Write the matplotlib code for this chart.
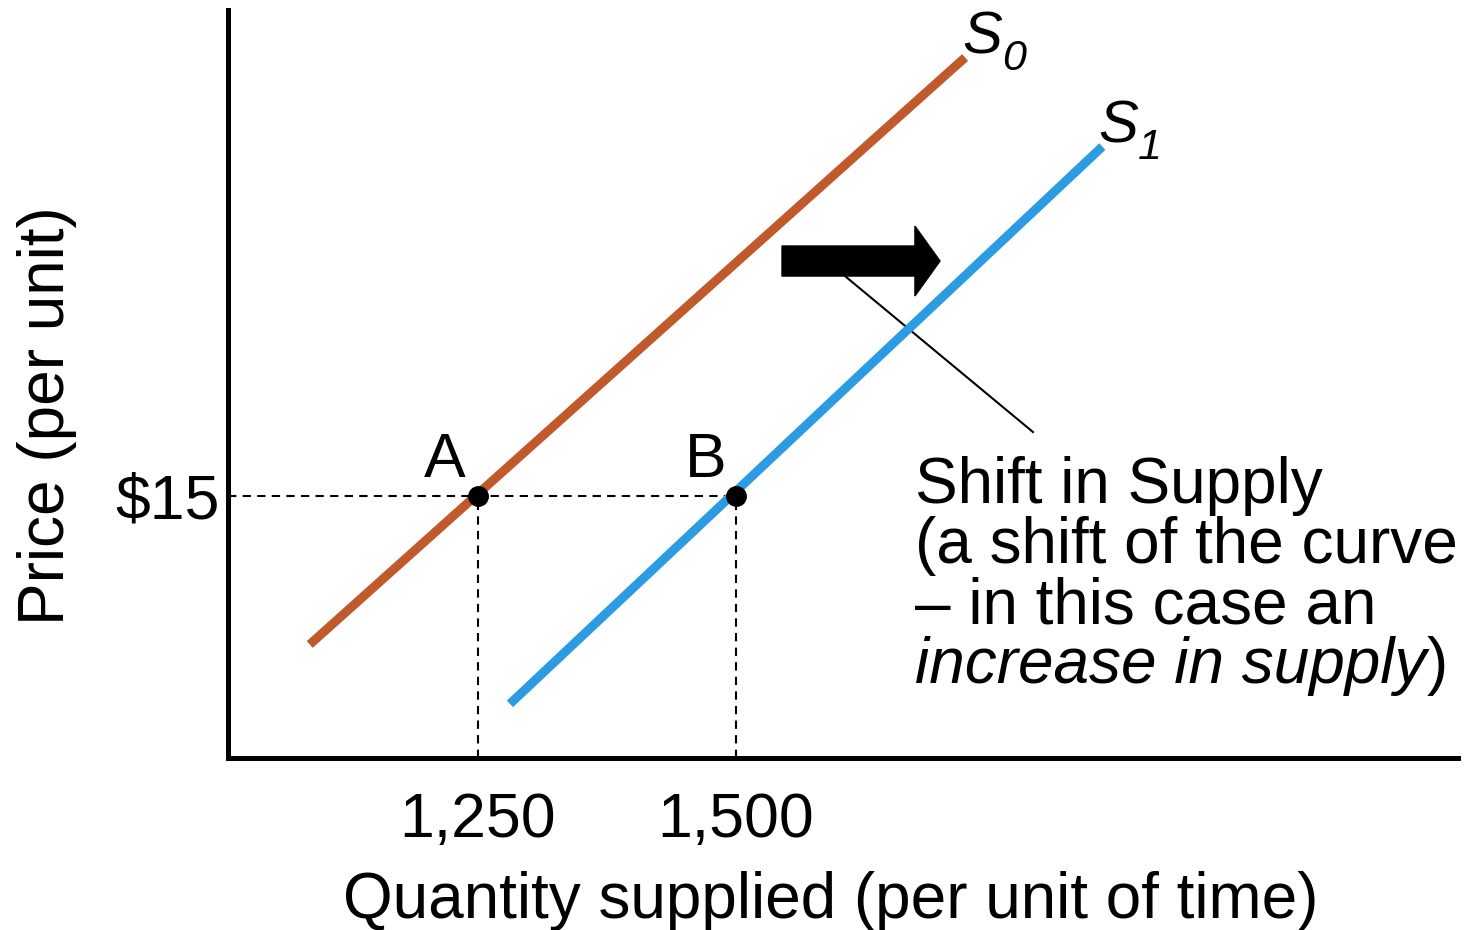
import matplotlib
matplotlib.use("Agg")
import matplotlib.pyplot as plt
from matplotlib.patches import FancyArrow

plt.rcParams['font.family'] = ['Liberation Sans', 'DejaVu Sans']

# ---- data ----
s0_q = [1087, 1722]
s0_p = [6.5, 40.1]
s1_q = [1281, 1855]
s1_p = [3.1, 35.0]
eq_q = [1250, 1500]
eq_p = [15, 15]
point_labels = ["A", "B"]
xtick_vals = [1250, 1500]
xtick_labels = ["1,250", "1,500"]
ytick_vals = [15]
ytick_labels = [r"\$15"]
orange = "#C0592C"
blue = "#2C9BE1"

W, H = 1465, 930
fig = plt.figure(figsize=(W / 100, H / 100), dpi=100)

def fx(px):
    return px / W

def fy(py):
    return 1 - py / H

ax = fig.add_axes([fx(228), fy(758), (1458 - 228) / W, (758 - 10) / H])
ax.set_xlim(1007.8, 2199.6)
ax.set_ylim(0, 42.82)

for side in ["top", "right"]:
    ax.spines[side].set_visible(False)
for side in ["left", "bottom"]:
    ax.spines[side].set_linewidth(3.6)
    ax.spines[side].set_color("black")

# dashed guides
ax.plot([ax.get_xlim()[0], eq_q[1]], [eq_p[0], eq_p[1]], color="black", lw=1.5,
        dashes=(4, 3), zorder=2)
for q, p in zip(eq_q, eq_p):
    ax.plot([q, q], [0, p], color="black", lw=1.5, dashes=(4, 3), zorder=2)

# supply curves
ax.plot(s0_q, s0_p, color=orange, lw=6.5, solid_capstyle="butt", zorder=3)
ax.plot(s1_q, s1_p, color=blue, lw=6.5, solid_capstyle="butt", zorder=3)

# equilibrium points
ax.plot(eq_q, eq_p, "o", color="black", ms=14, zorder=5)
for q, p, lab, dx in zip(eq_q, eq_p, point_labels, [-24, -22]):
    ax.annotate(lab, (q, p), xytext=(dx, 14), textcoords="offset points",
                ha="center", va="baseline", fontsize=45)

# ticks
ax.set_xticks(xtick_vals, xtick_labels)
ax.set_yticks(ytick_vals, ytick_labels)
ax.tick_params(axis="both", length=0, labelsize=45)
ax.tick_params(axis="x", pad=24)
ax.tick_params(axis="y", pad=6)

# axis labels
fig.text(fx(831), fy(918), "Quantity supplied (per unit of time)", ha="center",
         va="baseline", fontsize=46)
fig.text(fx(64), fy(416), "Price (per unit)", ha="center", va="baseline",
         rotation=90, rotation_mode="anchor", fontsize=46)

# curve labels
t0 = ax.annotate("S", (s0_q[1], s0_p[1]), xytext=(-2, 3), textcoords="offset points",
                 ha="left", va="baseline", fontsize=43, style="italic")
ax.annotate("0", xy=(1, 0), xycoords=t0, xytext=(0, -3), textcoords="offset points",
            ha="left", va="baseline", fontsize=31, style="italic")
t1 = ax.annotate("S", (s1_q[1], s1_p[1]), xytext=(-3, 3), textcoords="offset points",
                 ha="left", va="baseline", fontsize=43, style="italic")
ax.annotate("1", xy=(1, 0), xycoords=t1, xytext=(0, -3), textcoords="offset points",
            ha="left", va="baseline", fontsize=31, style="italic")

# shift arrow
arrow_y = 28.45
ax.add_patch(FancyArrow(1544.6, arrow_y, 1697.7 - 1544.6, 0, width=1.72,
                        head_width=4.0, head_length=24.3, length_includes_head=True,
                        color="black", zorder=4))
ax.plot([1605.6, 1787.8], [27.59, 18.66], color="black", lw=1.5, zorder=2)

# annotation text
lines = ["Shift in Supply", "(a shift of the curve", "\u2013 in this case an"]
base = [503, 563, 623]
for s, b in zip(lines, base):
    fig.text(fx(915), fy(b), s, ha="left", va="baseline", fontsize=46)
ti = fig.text(fx(915), fy(683), "increase in supply", ha="left", va="baseline",
              fontsize=46, style="italic")
fig.canvas.draw()
plt.annotate(")", xy=(1, 0), xycoords=ti, ha="left", va="bottom", fontsize=46,
             annotation_clip=False)

fig.savefig("out.png", dpi=100)
